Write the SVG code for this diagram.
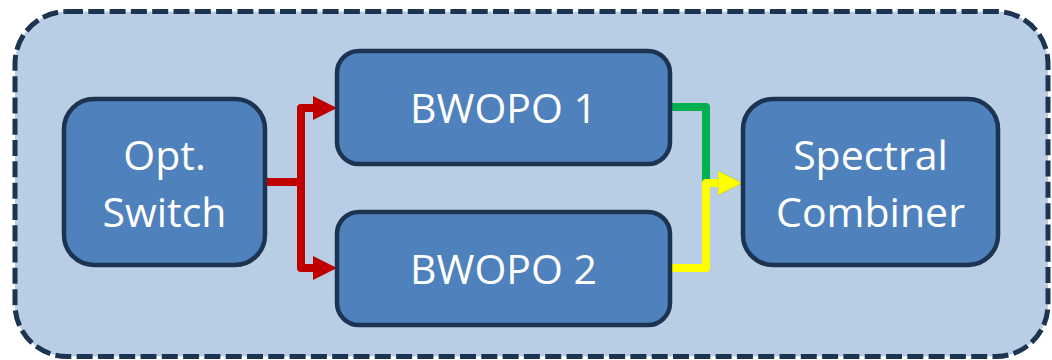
<svg xmlns="http://www.w3.org/2000/svg" width="1052" height="360" viewBox="0 0 1052 360">
<style>
.node{fill:#4F81BD;stroke:#1C3451;stroke-width:4.5}
.lbl{font-family:"Open Sans","Noto Sans",sans-serif;font-size:41px;fill:#FFFFFF;text-anchor:middle}
.wire{fill:none;stroke-width:8;stroke-linejoin:round}
</style>
<defs>
<marker id="arR" markerUnits="userSpaceOnUse" markerWidth="26" markerHeight="26" refX="0" refY="12" orient="auto" viewBox="0 0 26 24"><path d="M0,0 L24,12 L0,24 Z" fill="#C00000"/></marker>
<marker id="arY" markerUnits="userSpaceOnUse" markerWidth="26" markerHeight="26" refX="0" refY="12" orient="auto" viewBox="0 0 26 24"><path d="M0,0 L24,12 L0,24 Z" fill="#FFFF00" stroke="#C8D800" stroke-width="0.8"/></marker>
</defs>
<g id="container">
<rect x="15" y="11.5" width="1033" height="345" rx="52" ry="52" fill="#B9CDE5" stroke="#1C3451" stroke-width="5" stroke-dasharray="16 5.3"/>
</g>
<g id="connectors">
<path class="wire" stroke="#C00000" d="M264,182 H301"/>
<path class="wire" stroke="#C00000" d="M301,182 V108 H313" marker-end="url(#arR)"/>
<path class="wire" stroke="#C00000" d="M301,182 V268 H313" marker-end="url(#arR)"/>
<path class="wire" stroke="#00B050" d="M670,107 H706 V182"/>
<path class="wire" stroke="#FFFF00" d="M670,268 H706 V183 H718" marker-end="url(#arY)"/>
</g>
<g id="opt-switch">
<rect class="node" x="64" y="99" width="201" height="166" rx="30" ry="30"/>
<text class="lbl" x="164.5" y="170">Opt.</text>
<text class="lbl" x="164.5" y="227">Switch</text>
</g>
<g id="bwopo1">
<rect class="node" x="337" y="51" width="333" height="113" rx="22" ry="22"/>
<text class="lbl" x="503.5" y="123">BWOPO 1</text>
</g>
<g id="bwopo2">
<rect class="node" x="337" y="212" width="333" height="113" rx="22" ry="22"/>
<text class="lbl" x="503.5" y="284">BWOPO 2</text>
</g>
<g id="spectral-combiner">
<rect class="node" x="743" y="99" width="255" height="166" rx="30" ry="30"/>
<text class="lbl" x="870.5" y="170">Spectral</text>
<text class="lbl" x="870.5" y="227">Combiner</text>
</g>
</svg>
